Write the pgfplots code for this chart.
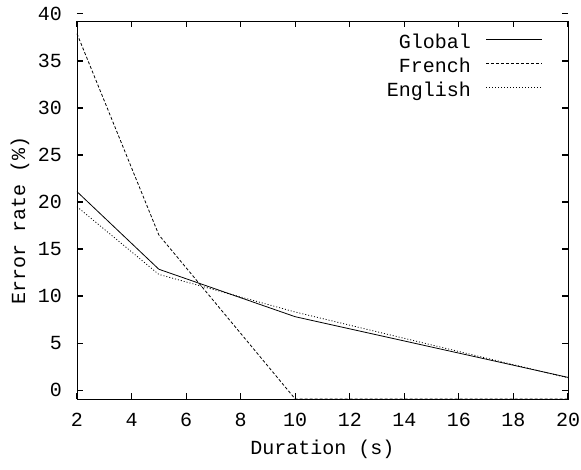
\documentclass[border=0pt]{standalone}
\usepackage{fontspec}
\setmainfont{Liberation Mono}
\usepackage{pgfplots}
\pgfplotsset{compat=1.18}
\newcommand{\gfont}{\fontsize{20bp}{24bp}\selectfont}
\begin{document}
\begin{tikzpicture}
\begin{axis}[
  at={(0,0)}, anchor=south west,
  scale only axis, width=491bp, height=378bp,
  xmin=2, xmax=20, ymin=-0.95, ymax=39.25,
  xtick={2,4,...,20}, ytick={0,5,...,35},
  axis line style={line width=0.9bp},
  xtick style={line width=1.1bp, black},
  ytick style={line width=1.1bp, black},
  major tick length=6bp, tick align=inside,
  /pgf/number format/assume math mode=true,
  tick label style={font=\gfont},
  xticklabel style={anchor=north, inner sep=0pt, yshift=-14bp},
  yticklabel style={anchor=east, inner sep=0pt, xshift=-15bp},
  xlabel={Duration (s)},
  ylabel={Error rate (\%)},
  label style={font=\gfont},
  xlabel style={at={(axis description cs:0.5,-0.132)}, anchor=center},
  ylabel style={at={(axis description cs:-0.116,0.471)}, anchor=center},
  clip=false,
  legend plot pos=right,
  legend cell align=right,
  legend style={draw=none, fill=none, font=\gfont,
    at={(axis description cs:1,1)}, anchor=north east,
    xshift=-25bp, yshift=-16bp, inner sep=0pt, row sep=10bp,
    nodes={inner sep=0pt, text height=11bp, text depth=3bp},
    /tikz/every odd column/.append style={column sep=15bp}},
  legend image code/.code={\draw[#1] (0bp,5bp) -- (56bp,5bp);},
]
\addplot[black, line width=0.8bp] coordinates {(2,21.1) (5,12.85) (10,7.8) (20,1.35)};
\addlegendentry{Global}
\addplot[black, line width=0.8bp, dash pattern=on 3bp off 2bp] coordinates {(2,37.9) (5,16.5) (10,-0.95) (20,-0.95)};
\addlegendentry{French}
\addplot[black, line width=0.8bp, dash pattern=on 1bp off 2bp] coordinates {(2,19.5) (5,12.3) (10,8.3) (20,1.3)};
\addlegendentry{English}
\node[anchor=east, inner sep=0pt, xshift=-15bp, font=\gfont] at (axis cs:2,40) {40};
\draw[line width=1.1bp] (axis cs:2,40) -- ([xshift=6bp]axis cs:2,40);
\draw[line width=1.1bp] (axis cs:20,40) -- ([xshift=-6bp]axis cs:20,40);
\end{axis}
\path (-77bp,-71bp) rectangle (504bp,399bp);
\end{tikzpicture}
\end{document}
